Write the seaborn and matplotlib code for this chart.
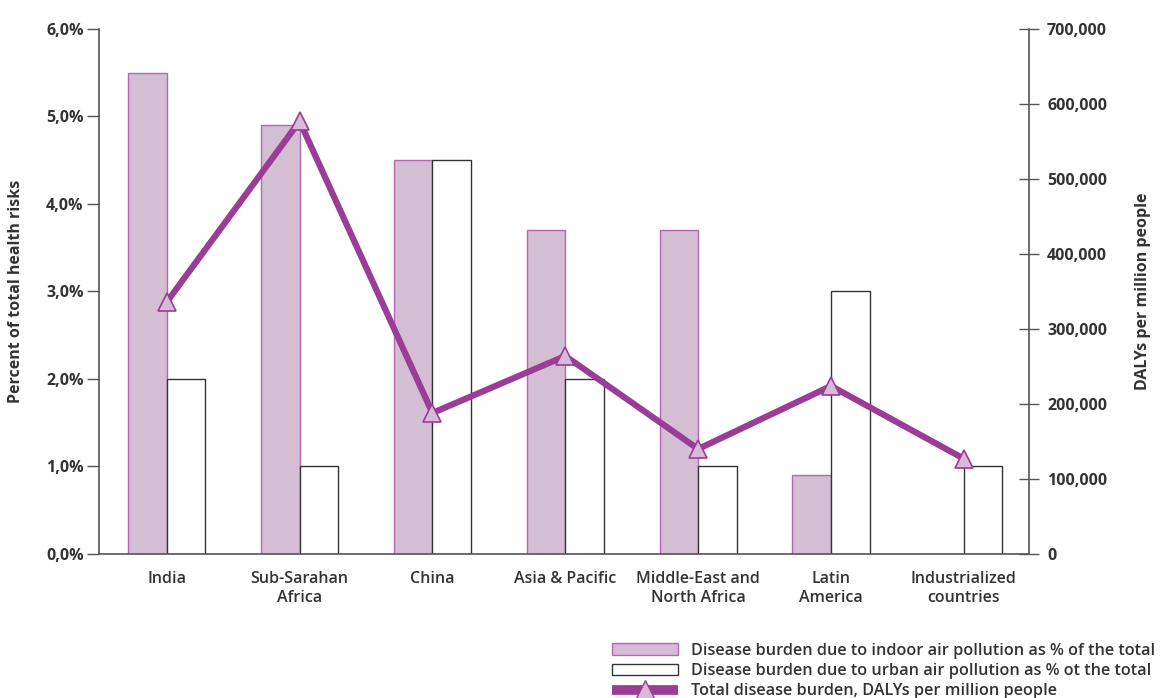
import matplotlib
matplotlib.use("Agg")
import matplotlib.pyplot as plt
import seaborn as sns
import pandas as pd
import numpy as np
from matplotlib.patches import Patch
from matplotlib.lines import Line2D
from matplotlib.ticker import FixedLocator, FuncFormatter

# data
regions = ["India", "Sub-Sarahan\nAfrica", "China", "Asia & Pacific",
           "Middle-East and\nNorth Africa", "Latin\nAmerica", "Industrialized\ncountries"]
indoor_pct = [5.5, 4.9, 4.5, 3.7, 3.7, 0.9, 0.0]
urban_pct = [2.0, 1.0, 4.5, 2.0, 1.0, 3.0, 1.0]
dalys = [336000, 577000, 188000, 264000, 140000, 224000, 127000]

indoor_lbl = "Disease burden due to indoor air pollution as % of the total"
urban_lbl = "Disease burden due to urban air pollution as % ot the total"
line_lbl = "Total disease burden, DALYs per million people"

PURPLE = "#9b3c96"
LIGHT = "#d6bad8"
EDGE = "#b467b2"
GREY = "#555555"
TXT = "#333333"

sns.set_style("white")
plt.rcParams["font.family"] = ["Open Sans", "DejaVu Sans"]

bars = pd.DataFrame({
    "region": regions * 2,
    "pct": indoor_pct + urban_pct,
    "kind": [indoor_lbl] * len(regions) + [urban_lbl] * len(regions),
})
line = pd.DataFrame({"region": regions, "dalys": dalys})

fig = plt.figure(figsize=(11.62, 6.98), dpi=100)
ax = fig.add_axes([0.0852, 0.2063, 0.8003, 0.7522])

sns.barplot(data=bars, x="region", y="pct", hue="kind", order=regions,
            palette=[LIGHT, "white"], width=0.58, gap=0, ax=ax, legend=False)
for patch in ax.containers[0]:
    patch.set_edgecolor(EDGE)
    patch.set_linewidth(1.0)
for patch in ax.containers[1]:
    patch.set_edgecolor("#333333")
    patch.set_linewidth(1.0)

ax.set_xlim(-0.51, len(regions) - 0.51)
ax.set_ylim(0, 6)
ax.set_yticks(np.arange(0, 7, 1))
ax.yaxis.set_major_formatter(FuncFormatter(lambda v, p: f"{v:.1f}%".replace(".", ",")))
ax.set_ylabel("Percent of total health risks", fontsize=11.5, fontweight="bold",
              color=TXT, labelpad=16)
ax.set_xlabel("")
ax.xaxis.set_major_locator(FixedLocator(range(len(regions))))
ax.set_xticklabels(regions, fontsize=11.5, color=TXT, fontweight="semibold",
                   linespacing=1.3)
ax.xaxis.set_minor_locator(FixedLocator(np.arange(0.5, len(regions) - 0.5, 1)))
ax.tick_params(axis="x", which="major", length=0, pad=12)
ax.tick_params(axis="x", which="minor", direction="inout", length=14,
               width=1.0, color=GREY)
ax.tick_params(axis="y", direction="out", length=9, width=1.0, color=GREY,
               labelsize=11.5, labelcolor=TXT, pad=2)
for lab in ax.get_yticklabels():
    lab.set_fontweight("bold")

ax2 = ax.twinx()
sns.pointplot(data=line, x="region", y="dalys", order=regions, color=PURPLE,
              markers="^", markersize=13, linewidth=4.5, ax=ax2)
for ln in ax2.lines:
    ln.set_markerfacecolor(LIGHT)
    ln.set_markeredgecolor(PURPLE)
    ln.set_markeredgewidth(1.2)
ax2.set_xlim(-0.51, len(regions) - 0.51)
ax2.set_ylim(0, 700000)
ax2.set_yticks(np.arange(0, 700001, 100000))
ax2.yaxis.set_major_formatter(FuncFormatter(lambda v, p: f"{int(v):,}"))
ax2.set_ylabel("DALYs per million people", fontsize=11.5, fontweight="bold",
               color=TXT, labelpad=20)
ax2.set_xlabel("")
ax2.tick_params(axis="y", direction="inout", length=14, width=1.0, color=GREY,
                labelsize=11.5, labelcolor=TXT, pad=6)
for lab in ax2.get_yticklabels():
    lab.set_fontweight("bold")

for a in (ax, ax2):
    a.spines["top"].set_visible(False)
    for s in ("left", "right", "bottom"):
        a.spines[s].set_color(GREY)
        a.spines[s].set_linewidth(1.2)
ax.spines["right"].set_visible(False)
ax2.spines["left"].set_visible(False)
ax2.spines["bottom"].set_visible(False)

handles = [
    Patch(facecolor=LIGHT, edgecolor=EDGE, linewidth=1.0),
    Patch(facecolor="white", edgecolor="#333333", linewidth=1.0),
    Line2D([], [], color=PURPLE, lw=7, marker="^", markersize=14,
           markerfacecolor=LIGHT, markeredgecolor=PURPLE, solid_capstyle="butt"),
]
fig.legend(handles, [indoor_lbl, urban_lbl, line_lbl], loc="upper left",
           bbox_to_anchor=(0.5195, 0.091), frameon=False,
           handlelength=4.1, handleheight=0.7, labelspacing=0.27,
           handletextpad=0.8, borderpad=0, labelcolor=TXT,
           prop={"weight": "semibold", "size": 11.7})

fig.savefig("out.png", dpi=100)
